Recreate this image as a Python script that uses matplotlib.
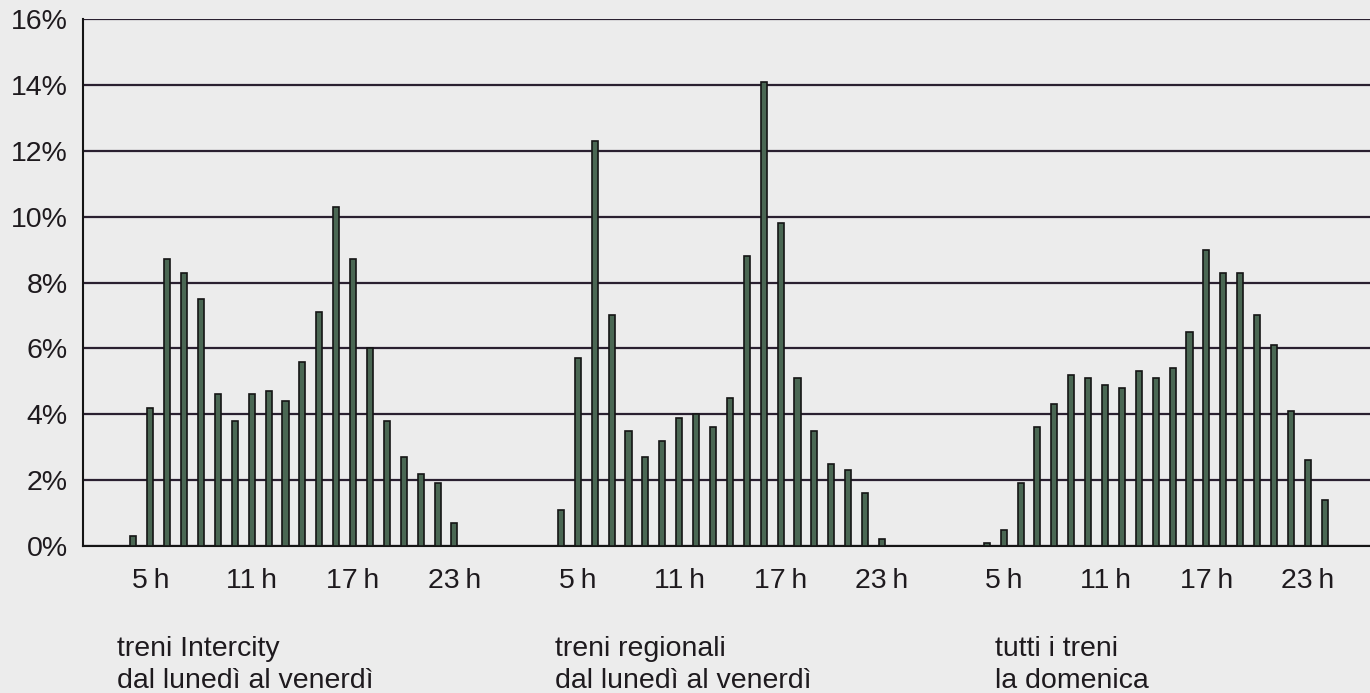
import numpy as np
import matplotlib.pyplot as plt

plt.rcParams['font.family'] = ['Liberation Sans', 'DejaVu Sans']

# ore del giorno per ogni gruppo
ore_feriali = list(range(4, 24))      # 4h .. 23h
ore_domenica = list(range(4, 25))     # 4h .. 24h

# quota dei treni per ora (%)
intercity = [0.3, 4.2, 8.7, 8.3, 7.5, 4.6, 3.8, 4.6, 4.7, 4.4,
             5.6, 7.1, 10.3, 8.7, 6.0, 3.8, 2.7, 2.2, 1.9, 0.7]
regionali = [1.1, 5.7, 12.3, 7.0, 3.5, 2.7, 3.2, 3.9, 4.0, 3.6,
             4.5, 8.8, 14.1, 9.8, 5.1, 3.5, 2.5, 2.3, 1.6, 0.2]
domenica = [0.1, 0.5, 1.9, 3.6, 4.3, 5.2, 5.1, 4.9, 4.8, 5.3,
            5.1, 5.4, 6.5, 9.0, 8.3, 8.3, 7.0, 6.1, 4.1, 2.6, 1.4]

ore_etichette = [5, 11, 17, 23]
titoli = ['treni Intercity\ndal lunedì al venerdì',
          'treni regionali\ndal lunedì al venerdì',
          'tutti i treni\nla domenica']

# spostamento orizzontale dei tre gruppi
offset = [0, 25.3, 50.5]
gruppi = [(ore_feriali, intercity), (ore_feriali, regionali), (ore_domenica, domenica)]

sfondo = '#ececec'
testo = '#1e1a1e'
fs = 20.5

fig = plt.figure(figsize=(13.7, 6.93), dpi=100, facecolor=sfondo)
ax = fig.add_axes([0.0606, 0.2121, 0.9394, 0.7605])
ax.set_facecolor(sfondo)

for off, (ore, valori) in zip(offset, gruppi):
    x = np.array(ore) + off
    ax.bar(x, valori, width=0.36, color='#4a6753', edgecolor='#151515',
           linewidth=1.2, zorder=3)

ax.set_xlim(1.02, 77.18)
ax.set_ylim(0, 16)

ax.set_yticks(np.arange(0, 17, 2))
ax.set_yticklabels([f'{v}%' for v in range(0, 17, 2)])
ax.yaxis.grid(True, color='#2a2030', linewidth=1.6, zorder=0)
ax.set_axisbelow(True)

pos = []
lab = []
for off in offset:
    for h in ore_etichette:
        pos.append(off + h)
        lab.append(f'{h}\u2009h')
ax.set_xticks(pos)
ax.set_xticklabels(lab)

ax.tick_params(axis='both', length=0, labelsize=fs, colors=testo)
ax.tick_params(axis='y', pad=11)
ax.tick_params(axis='x', pad=16)

for s in ['top', 'right']:
    ax.spines[s].set_visible(False)
for s in ['left', 'bottom']:
    ax.spines[s].set_color('#151515')
    ax.spines[s].set_linewidth(1.5)

# titoli dei gruppi sotto il grafico
x_titoli = [117 / 1370, 555 / 1370, 995 / 1370]
for xt, t in zip(x_titoli, titoli):
    riga1, riga2 = t.split('\n')
    fig.text(xt, 37 / 693, riga1, fontsize=fs, color=testo,
             ha='left', va='baseline')
    fig.text(xt, 5 / 693, riga2, fontsize=fs, color=testo,
             ha='left', va='baseline')

fig.savefig('out.png', dpi=100, facecolor=sfondo)
